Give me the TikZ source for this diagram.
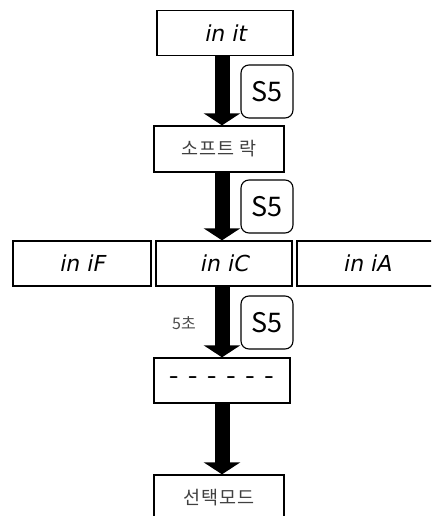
\documentclass[tikz,border=0pt]{standalone}
\usepackage{fontspec}
\newfontfamily\kr{Noto Sans CJK KR}
\newfontfamily\krwide[LetterSpace=6]{Noto Sans CJK KR}
\newfontfamily\segfont[FakeSlant=0.2]{DejaVu Sans}
\usetikzlibrary{arrows.meta}
\tikzset{
  panel/.style={draw, line width=1.3pt, rectangle, inner sep=0pt, minimum height=45pt},
  keycap/.style={draw, line width=1.1pt, rounded corners=8pt, minimum width=52pt, minimum height=53pt,
    inner sep=0pt, font=\kr\fontsize{27}{27}\selectfont},
  segtext/.style={font=\segfont\fontsize{22}{22}\selectfont},
  krtext/.style={font=\krwide\fontsize{18.5}{18.5}\selectfont, text=black!75},
  bigarrow/.style={line width=15pt, -{Triangle[width=36pt,length=12pt]}},
}
\begin{document}
\begin{tikzpicture}[x=1pt, y=-1pt]
  \useasboundingbox (0,0) rectangle (431,516);
  \clip (0,0) rectangle (431,516);
  % vertical axis of the flow arrows
  \coordinate (axis) at (222,0);

  % display panels
  \node[panel, minimum width=136pt, segtext] (init) at (225,33) {in it};
  \node[panel, minimum width=130pt, minimum height=46pt, krtext] (soft) at (219,149) {소프트 락};
  \node[panel, minimum width=138pt, segtext] (iniF) at (82,263.5) {in iF};
  \node[panel, minimum width=136pt, segtext] (iniC) at (224,263.5) {in iC};
  \node[panel, minimum width=140pt, segtext] (iniA) at (367,263.5) {in iA};
  \node[panel, minimum width=136pt, font=\sffamily\bfseries\fontsize{26}{26}\selectfont] (dash) at (222,380.5) {- - - - - -};
  \node[panel, minimum width=130pt, krtext] (sel) at (219,497.5) {선택모드};

  % key presses
  \node[keycap] (k1) at (267,91.5) {S5};
  \node[keycap] (k2) at (267,206.5) {S5};
  \node[keycap] (k3) at (267,322.5) {S5};
  \node[font=\kr\fontsize{16}{16}\selectfont, text=black!70] (hold) at (184,323) {5초};

  % flow arrows
  \draw[bigarrow] (init.south -| axis) -- (soft.north -| axis);
  \draw[bigarrow] (soft.south -| axis) -- (iniC.north -| axis);
  \draw[bigarrow] (iniC.south -| axis) -- (dash.north -| axis);
  \draw[bigarrow] (dash.south -| axis) -- (sel.north -| axis);
\end{tikzpicture}
\end{document}
